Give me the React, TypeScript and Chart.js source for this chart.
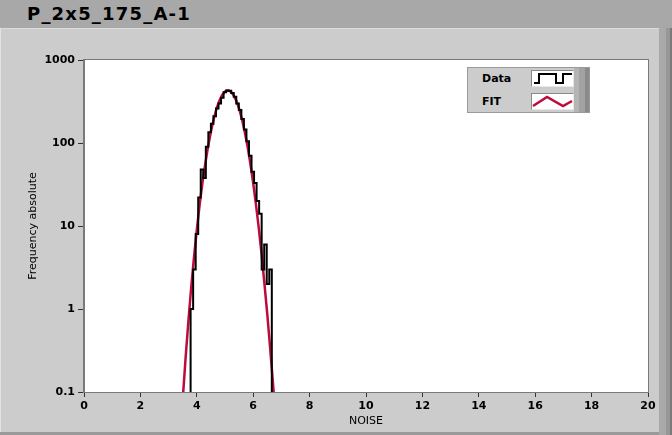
import React, { useEffect, useRef } from "react";
import { Chart, registerables } from "chart.js";

Chart.register(...registerables);

// ---- data ----
const titleText = "P_2x5_175_A-1";
const xAxisTitle = "NOISE";
const yAxisTitle = "Frequency absolute";

// histogram bins (left edges) and absolute counts
const binEdges = [
  3.78, 3.87, 3.96, 4.05, 4.14, 4.23, 4.32, 4.41, 4.5, 4.59, 4.68, 4.77, 4.86,
  4.95, 5.04, 5.13, 5.22, 5.31, 5.4, 5.49, 5.58, 5.67, 5.76, 5.85, 5.94, 6.03,
  6.12, 6.21, 6.3, 6.39, 6.48, 6.57,
];
const binEnd = 6.66;
const counts = [
  1, 3, 8, 22, 48, 38, 90, 135, 170, 210, 260, 300, 350, 410, 430, 425, 400,
  360, 300, 250, 195, 145, 105, 70, 45, 33, 20, 14, 3, 6, 2, 3,
];

// fitted curve
const fitX = [
  3.4, 3.5, 3.6, 3.7, 3.8, 3.9, 4.0, 4.1, 4.2, 4.3, 4.4, 4.5, 4.6, 4.7, 4.8,
  4.9, 5.0, 5.1, 5.2, 5.3, 5.4, 5.5, 5.6, 5.7, 5.8, 5.9, 6.0, 6.1, 6.2, 6.3,
  6.4, 6.5, 6.6, 6.7, 6.8, 6.9,
];
const fitY = [
  0.03, 0.08, 0.25, 0.7, 1.8, 4.2, 9, 18, 33, 56, 91, 137, 195, 259, 323, 379,
  417, 430, 417, 379, 323, 259, 195, 137, 91, 56, 33, 18, 9.3, 4.5, 2.0, 0.86,
  0.34, 0.13, 0.045, 0.015,
];

const yTickValues = [0.1, 1, 10, 100, 1000];
const yTickLabels = ["0.1", "1", "10", "100", "1000"];
const xMin = 0;
const xMax = 20;
const xStep = 2;
const yMin = 0.1;
const yMax = 1000;

const legendLabels = ["Data", "FIT"];

const DATA_COLOR = "#000000";
const FIT_COLOR = "#be0a3c";
const FONT = "'DejaVu Sans', sans-serif";

const plotFrame = {
  id: "plotFrame",
  beforeDraw(chart: any) {
    const { ctx, chartArea } = chart;
    ctx.save();
    ctx.fillStyle = "#ffffff";
    ctx.fillRect(
      chartArea.left,
      chartArea.top,
      chartArea.right - chartArea.left,
      chartArea.bottom - chartArea.top
    );
    ctx.restore();
  },
  afterDraw(chart: any) {
    const { ctx, chartArea } = chart;
    ctx.save();
    ctx.strokeStyle = "#7a7a7a";
    ctx.lineWidth = 1;
    ctx.strokeRect(
      chartArea.left - 0.5,
      chartArea.top - 0.5,
      chartArea.right - chartArea.left + 1,
      chartArea.bottom - chartArea.top + 1
    );
    ctx.restore();
  },
};

function ChartCanvas() {
  const ref = useRef<HTMLCanvasElement | null>(null);
  useEffect(() => {
    if (!ref.current) return;
    Chart.defaults.font.family = FONT;
    const floor = 0.001;
    const histPts: { x: number; y: number }[] = [];
    histPts.push({ x: binEdges[0], y: floor });
    binEdges.forEach((e, i) => histPts.push({ x: e, y: counts[i] }));
    histPts.push({ x: binEnd, y: counts[counts.length - 1] });
    histPts.push({ x: binEnd, y: floor });
    const fitPts = fitX.map((x, i) => ({ x, y: fitY[i] }));

    const chart = new Chart(ref.current, {
      type: "line",
      data: {
        datasets: [
          {
            label: legendLabels[0],
            data: histPts,
            borderColor: DATA_COLOR,
            borderWidth: 2,
            pointRadius: 0,
            stepped: true,
            fill: false,
          },
          {
            label: legendLabels[1],
            data: fitPts,
            borderColor: FIT_COLOR,
            borderWidth: 2.5,
            pointRadius: 0,
            tension: 0,
            fill: false,
          },
        ],
      },
      options: {
        responsive: false,
        animation: false,
        devicePixelRatio: 1,
        layout: { padding: { top: 60, right: 24, bottom: 0, left: 0 } },
        plugins: {
          legend: { display: false },
          tooltip: { enabled: false },
          title: { display: false },
        },
        scales: {
          x: {
            type: "linear",
            min: xMin,
            max: xMax,
            ticks: {
              stepSize: xStep,
              color: "#000",
              font: { family: FONT, size: 11, weight: "bold" },
              padding: 3,
              maxRotation: 0,
            },
            grid: {
              drawOnChartArea: false,
              drawTicks: true,
              tickLength: 5,
              color: "#333",
            },
            border: { display: true, color: "#7a7a7a" },
            title: {
              display: true,
              text: xAxisTitle,
              color: "#000",
              font: { family: FONT, size: 11 },
              padding: { top: 0, bottom: 7 },
            },
            afterFit: (s: any) => {
              s.height = 43;
            },
          },
          y: {
            type: "logarithmic",
            min: yMin,
            max: yMax,
            afterBuildTicks: (s: any) => {
              s.ticks = yTickValues.map((v) => ({ value: v }));
            },
            ticks: {
              color: "#000",
              font: { family: FONT, size: 11, weight: "bold" },
              padding: 3,
              callback: (v: any) => {
                const idx = yTickValues.indexOf(Number(v));
                return idx >= 0 ? yTickLabels[idx] : "";
              },
            },
            grid: {
              drawOnChartArea: false,
              drawTicks: true,
              tickLength: 6,
              color: "#333",
            },
            border: { display: true, color: "#7a7a7a" },
            title: {
              display: true,
              text: yAxisTitle,
              color: "#000",
              font: { family: FONT, size: 11 },
              padding: { top: 27, bottom: 0 },
            },
            afterFit: (s: any) => {
              s.width = 84;
            },
          },
        },
      },
      plugins: [plotFrame],
    } as any);
    return () => chart.destroy();
  }, []);
  return (
    <canvas
      ref={ref}
      width={672}
      height={435}
      style={{ position: "absolute", left: 0, top: 0, width: 672, height: 435 }}
    />
  );
}

function Legend() {
  const rowText: React.CSSProperties = {
    position: "absolute",
    left: 14,
    fontFamily: FONT,
    fontWeight: "bold",
    fontSize: 11,
    lineHeight: "13px",
    color: "#000",
  };
  const iconBox: React.CSSProperties = {
    position: "absolute",
    left: 63,
    width: 41,
    height: 15,
    background: "#fff",
    borderTop: "1px solid #8a8a8a",
    borderLeft: "1px solid #8a8a8a",
    borderBottom: "1px solid #e8e8e8",
    borderRight: "1px solid #e8e8e8",
  };
  return (
    <div
      style={{
        position: "absolute",
        left: 467,
        top: 67,
        width: 121,
        height: 44,
        background: "#cccccc",
        border: "1px solid #9a9a9a",
      }}
    >
      <div style={{ ...rowText, top: 4 }}>{legendLabels[0]}</div>
      <div style={{ ...rowText, top: 27 }}>{legendLabels[1]}</div>
      <div style={{ ...iconBox, top: 2 }}>
        <svg width={41} height={15} style={{ display: "block" }}>
          <polyline
            points="2,12 7,12 7,3 24,3 24,12 31,12 31,3 40,3"
            fill="none"
            stroke={DATA_COLOR}
            strokeWidth={2}
          />
        </svg>
      </div>
      <div style={{ ...iconBox, top: 25 }}>
        <svg width={41} height={15} style={{ display: "block" }}>
          <polyline
            points="1,12 15,3 31,12 40,7"
            fill="none"
            stroke={FIT_COLOR}
            strokeWidth={2.5}
          />
        </svg>
      </div>
      <div
        style={{
          position: "absolute",
          left: 106,
          top: 0,
          width: 15,
          height: 44,
          background:
            "linear-gradient(to right, #b4b4b4 0px, #b4b4b4 5px, #a2a2a2 5px, #a2a2a2 11px, #8a8a8a 11px)",
        }}
      />
    </div>
  );
}

export default function App() {
  return (
    <div
      style={{
        position: "fixed",
        left: 0,
        top: 0,
        width: 672,
        height: 435,
        overflow: "hidden",
        background: "#cccccc",
      }}
    >
      <div
        style={{
          position: "absolute",
          left: 0,
          top: 0,
          width: 672,
          height: 28,
          background: "#a8a8a8",
        }}
      />
      <div
        style={{
          position: "absolute",
          left: 27,
          top: 3,
          fontFamily: FONT,
          fontWeight: "bold",
          fontSize: 18,
          lineHeight: "22px",
          letterSpacing: "1.2px",
          color: "#000",
          whiteSpace: "nowrap",
        }}
      >
        {titleText}
      </div>
      <div
        style={{
          position: "absolute",
          left: 0,
          top: 28,
          width: 659,
          height: 1,
          background: "#dcdcdc",
        }}
      />
      <div
        style={{
          position: "absolute",
          left: 0,
          top: 28,
          width: 1,
          height: 405,
          background: "#e2e2e2",
        }}
      />
      <div
        style={{
          position: "absolute",
          left: 659,
          top: 28,
          width: 13,
          height: 407,
          background:
            "linear-gradient(to right, #a9a9a9 0px, #a9a9a9 7px, #979797 7px, #979797 11px, #7a7a7a 11px)",
        }}
      />
      <div
        style={{
          position: "absolute",
          left: 0,
          top: 432,
          width: 659,
          height: 3,
          background: "#9a9a9a",
        }}
      />
      <ChartCanvas />
      <Legend />
    </div>
  );
}
